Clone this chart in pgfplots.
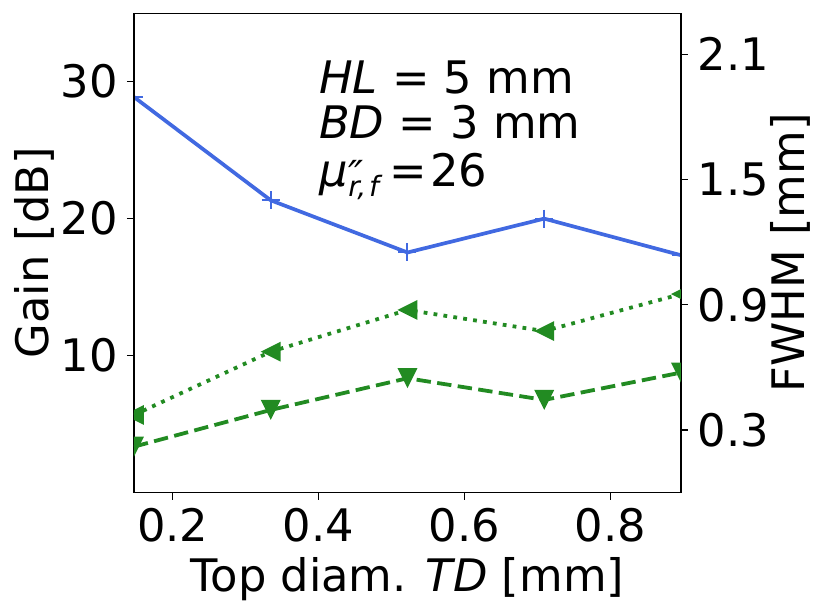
\documentclass[border=0pt]{standalone}
\usepackage{fontspec}
\setmainfont{DejaVu Sans}
\usepackage{pgfplots}
\pgfplotsset{compat=1.18}
\definecolor{royalblue}{RGB}{65,105,225}
\definecolor{forestgreen}{RGB}{34,139,34}
\pgfdeclareplotmark{tril}{%
  \pgfpathmoveto{\pgfqpoint{-\pgfplotmarksize}{0pt}}%
  \pgfpathlineto{\pgfqpoint{\pgfplotmarksize}{\pgfplotmarksize}}%
  \pgfpathlineto{\pgfqpoint{\pgfplotmarksize}{-\pgfplotmarksize}}%
  \pgfpathclose\pgfusepathqfill}
\pgfdeclareplotmark{trid}{%
  \pgfpathmoveto{\pgfqpoint{0pt}{-\pgfplotmarksize}}%
  \pgfpathlineto{\pgfqpoint{-\pgfplotmarksize}{\pgfplotmarksize}}%
  \pgfpathlineto{\pgfqpoint{\pgfplotmarksize}{\pgfplotmarksize}}%
  \pgfpathclose\pgfusepathqfill}
\newcommand{\bigf}{\fontsize{22.4}{26}\selectfont}
\newcommand{\subf}{\fontsize{14}{16}\selectfont}
\newcommand{\supf}{\fontsize{20}{22}\selectfont}
\begin{document}
\bigf
\begin{tikzpicture}
\pgfplotsset{
  every axis/.append style={
    scale only axis, width=273.5pt, height=239.7pt,
    at={(0,0)}, anchor=south west,
    xmin=0.147, xmax=0.897,
    tick align=outside,
    major tick length=3.5pt,
    every tick/.style={line width=0.7pt, black},
    axis line style={line width=0.7pt},
    /pgf/number format/assume math mode=true,
    tick label style={font=\bigf},
    label style={font=\bigf},
    clip marker paths=true,
  }
}
\begin{axis}[
  ymin=0, ymax=35,
  xtick={0.2,0.4,0.6,0.8},
  ytick={10,20,30},
  xtick pos=left, ytick pos=left,
  xticklabel style={/pgf/number format/fixed, /pgf/number format/fixed zerofill, /pgf/number format/precision=1,
    inner sep=0pt, anchor=north, yshift=-4.3pt},
  yticklabel style={inner sep=0pt, anchor=east, xshift=-4.35pt},
  xlabel={Top diam. \textit{TD} [mm]},
  xlabel style={at={(axis description cs:0.5,-0.2065)}, anchor=base, inner sep=0pt},
  ylabel={Gain [dB]},
  ylabel style={at={(axis description cs:-0.1554,0.5)}, anchor=base, inner sep=0pt},
]
\addplot[royalblue, line width=1.85pt, mark=+, mark size=4.5pt,
  mark options={line width=1pt, solid}]
  coordinates {(0.147,28.88) (0.3345,21.34) (0.522,17.53) (0.7095,20.0) (0.897,17.33)};
\end{axis}
\begin{axis}[
  ymin=0, ymax=2.297,
  hide x axis,
  ytick={0.3,0.9,1.5,2.1},
  ytick pos=right, yticklabel pos=right,
  yticklabel style={/pgf/number format/fixed, /pgf/number format/fixed zerofill, /pgf/number format/precision=1,
    inner sep=0pt, anchor=west, xshift=4.65pt},
  ylabel={FWHM [mm]},
  ylabel style={at={(axis description cs:1.2267,0.5)}, anchor=base, inner sep=0pt},
]
\addplot[forestgreen, line width=1.9pt, dash pattern=on 1.9pt off 3.1pt, mark=tril, mark size=5pt,
  mark options={solid}]
  coordinates {(0.147,0.372) (0.3345,0.675) (0.522,0.875) (0.7095,0.774) (0.897,0.951)};
\addplot[forestgreen, line width=1.9pt, dash pattern=on 7.2pt off 3.2pt, mark=trid, mark size=5pt,
  mark options={solid}]
  coordinates {(0.147,0.220) (0.3345,0.396) (0.522,0.548) (0.7095,0.444) (0.897,0.575)};
\end{axis}
\node[anchor=base west, inner sep=0pt] at (92.4pt,199.7pt) {\textit{HL} = 5 mm};
\node[anchor=base west, inner sep=0pt] at (92.4pt,177.2pt) {\textit{BD} = 3 mm};
\node[anchor=base west, inner sep=0pt] at (92.4pt,152.9pt) {\makebox[35pt][l]{\textit{μ}\hspace{0.3pt}\rlap{\raisebox{-1.5pt}{\supf\itshape ′\kern-1.5pt′}}\raisebox{-5pt}{\subf\itshape r,\hspace{1.5pt}f}}=\hspace{1.9pt}26};
\path[use as bounding box] (-67pt,-61.15pt) rectangle (348pt,246.3pt);
\end{tikzpicture}
\end{document}
